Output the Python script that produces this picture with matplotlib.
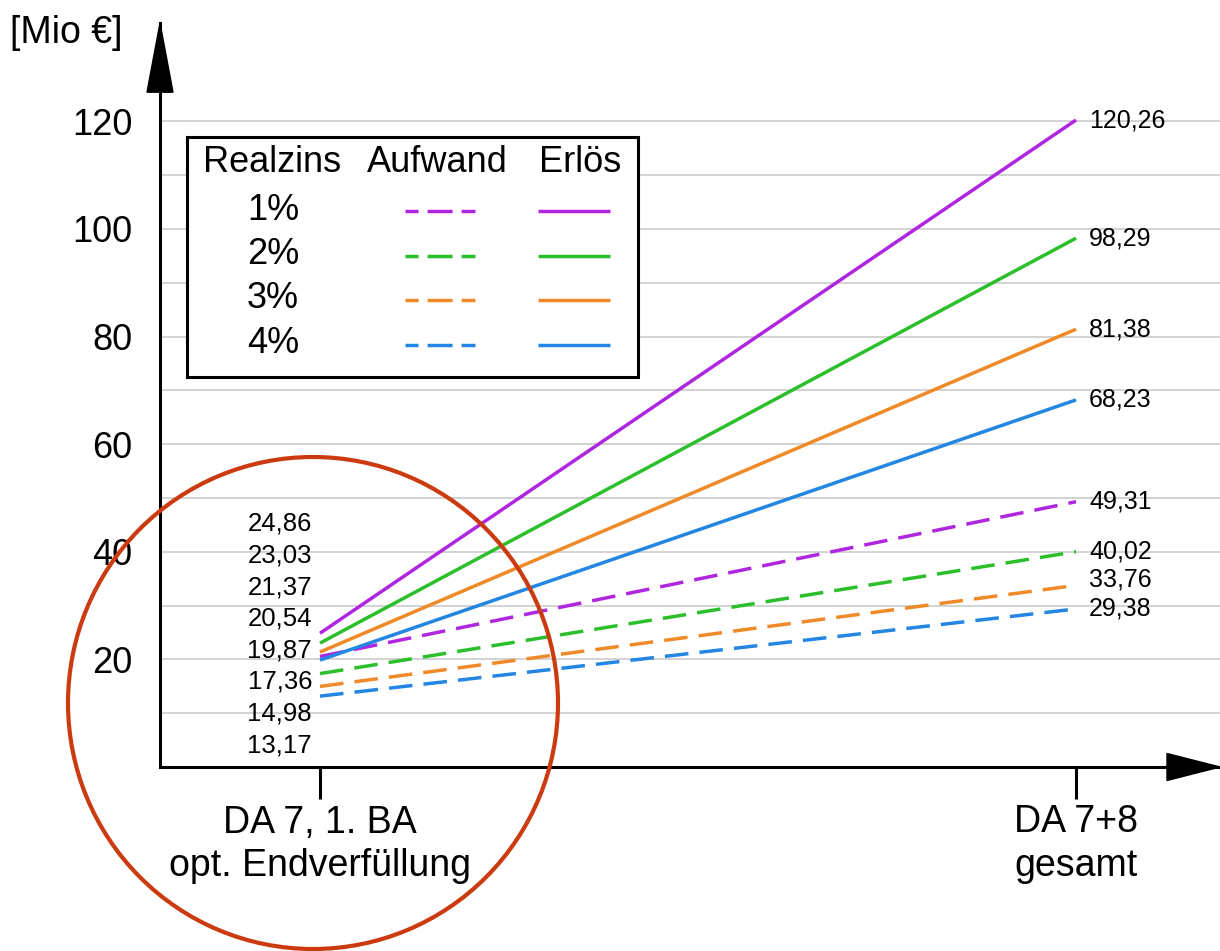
import matplotlib
import matplotlib.pyplot as plt
from matplotlib.lines import Line2D
from matplotlib.patches import Ellipse, Polygon, Rectangle

matplotlib.use("Agg")

plt.rcParams["font.family"] = ["Liberation Sans", "DejaVu Sans"]
plt.rcParams["lines.scale_dashes"] = False

# Realzins scenarios and their values (Mio EUR) at both stages
rates = ["1%", "2%", "3%", "4%"]
colors = ["#b026e0", "#2cbf2c", "#f08a28", "#2286e2"]
erloes_start = [24.86, 23.03, 21.37, 19.87]
erloes_end = [120.26, 98.29, 81.38, 68.23]
aufwand_start = [20.54, 17.36, 14.98, 13.17]
aufwand_end = [49.31, 40.02, 33.76, 29.38]
stages = ["DA 7, 1. BA\nopt. Endverfüllung", "DA 7+8\ngesamt"]

W, H = 1220, 951
LW = 2.5


def fx(px):
    return px / W


def fy(py):
    return 1 - py / H


def fmt(v):
    return f"{v:.2f}".replace(".", ",")


fig = plt.figure(figsize=(W / 100, H / 100), dpi=100)
ax = fig.add_axes([fx(160), fy(767), (W - 160) / W, (767 - 23) / H])

scale = 5.38  # pixels per Mio
ax.set_ylim(0, (767 - 23) / scale)
ax.set_xlim(-(320 - 160) / 756, (W - 320) / 756)

ax.set_yticks(range(20, 121, 20))
ax.set_yticks(range(10, 121, 20), minor=True)
ax.yaxis.grid(True, which="both", color="#cccccc", lw=1.2)
ax.set_axisbelow(True)
ax.tick_params(axis="y", which="both", length=0, pad=20, labelsize=26)
ax.set_xticks([0, 1], stages)
ax.tick_params(axis="x", length=23, width=2.2, pad=4, labelsize=27)
for lbl in ax.get_xticklabels():
    lbl.set_linespacing(1.25)

for side in ["top", "right"]:
    ax.spines[side].set_visible(False)
for side in ["left", "bottom"]:
    ax.spines[side].set_linewidth(2.2)

# arrowheads on both axes
ax.add_patch(Polygon([[0, 1], [-13 / 1060, 0.907], [13 / 1060, 0.907]],
                     closed=True, color="black", transform=ax.transAxes, clip_on=False))
ax.add_patch(Polygon([[1, 0], [0.95, 13.5 / 744], [0.95, -13.5 / 744]],
                     closed=True, color="black", transform=ax.transAxes, clip_on=False))

for c, e0, e1, a0, a1 in zip(colors, erloes_start, erloes_end, aufwand_start, aufwand_end):
    ax.plot([0, 1], [e0, e1], color=c, lw=LW, solid_capstyle="butt")
    ax.plot([0, 1], [a0, a1], color=c, lw=LW, ls=(0, (17, 8)), dash_capstyle="butt")

# end values at the right
nudge = {33.76: 4.5}
for v in erloes_end + aufwand_end:
    ax.annotate(fmt(v), (1, v), xytext=(9.5, nudge.get(v, 0)), textcoords="offset points",
                ha="left", va="center", fontsize=18)

# start values stacked in a column at the left
start_vals = sorted(erloes_start + aufwand_start, reverse=True)
for i, v in enumerate(start_vals):
    fig.text(fx(312), fy(524 + i * 31.6), fmt(v), ha="right", va="center", fontsize=18.5)

fig.text(fx(10), fy(33), "[Mio €]", ha="left", va="center", fontsize=27)

# legend table
fig.add_artist(Rectangle((fx(187), fy(377)), (638 - 187) / W, (377 - 137) / H,
                         transform=fig.transFigure, facecolor="white", edgecolor="black",
                         lw=2.2, zorder=5))
fig.text(fx(203), fy(163), "Realzins", ha="left", va="center", fontsize=26, zorder=6)
fig.text(fx(437), fy(163), "Aufwand", ha="center", va="center", fontsize=26, zorder=6)
fig.text(fx(580), fy(163), "Erlös", ha="center", va="center", fontsize=26, zorder=6)
for i, (r, c) in enumerate(zip(rates, colors)):
    y = 210 + i * 44.5
    fig.text(fx(273), fy(y), r, ha="center", va="center", fontsize=26, zorder=6)
    fig.add_artist(Line2D([fx(405), fx(475)], [fy(y + 1), fy(y + 1)], color=c, lw=LW,
                          ls=(8.6, (18, 6.5)), dash_capstyle="butt", zorder=6))
    fig.add_artist(Line2D([fx(538), fx(610)], [fy(y + 1), fy(y + 1)], color=c, lw=LW,
                          solid_capstyle="butt", zorder=6))

# highlight ring around the first stage
fig.add_artist(Ellipse((fx(313), fy(703)), 490 / W, 492 / H, transform=fig.transFigure,
                       fill=False, edgecolor="#cc3a10", lw=3, zorder=7))

fig.savefig("out.png", dpi=100)
plt.close(fig)
